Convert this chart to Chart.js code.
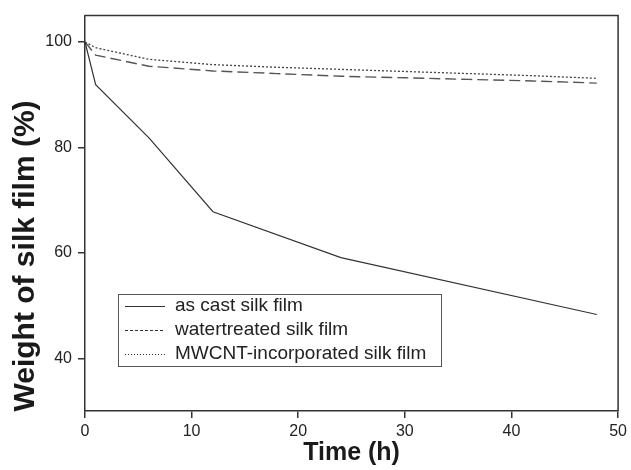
<!DOCTYPE html>
<html>
<head>
<meta charset="utf-8">
<script src="https://cdn.jsdelivr.net/npm/chart.js@4.4.1/dist/chart.umd.min.js"></script>
<style>
  body { margin: 0; background: #fff; }
  canvas { display: block; }
</style>
</head>
<body>
<canvas id="grafico" width="631" height="470"></canvas>
<script>
// datos
const horasCast = [0, 1, 6, 12, 24, 48];
const pesoCast = [100, 91.9, 81.8, 67.8, 59.1, 48.3];

const horas = [0, 1, 6, 12, 18, 24, 30, 36, 42, 48];
const pesoAgua = [100, 97.5, 95.4, 94.5, 94.0, 93.5, 93.2, 92.9, 92.6, 92.2];
const pesoMwcnt = [100, 98.9, 96.7, 95.7, 95.2, 94.8, 94.4, 94.0, 93.6, 93.1];

const nombres = ["as cast silk film", "watertreated silk film", "MWCNT-incorporated silk film"];
const ticksX = [0, 10, 20, 30, 40, 50];
const ticksY = [40, 60, 80, 100];
const tituloX = "Time (h)";
const tituloY = "Weight of silk film (%)";

const colorLinea = "#333333";
const fuente = "'Liberation Sans', Arial, sans-serif";

function puntos(xs, ys) {
  return xs.map((x, i) => ({ x: x, y: ys[i] }));
}

// marco, leyenda y titulos de los ejes
const extras = {
  id: "extras",
  afterDraw(chart) {
    const ctx = chart.ctx;
    const a = chart.chartArea;
    ctx.save();
    ctx.strokeStyle = colorLinea;
    ctx.lineWidth = 1.5;
    ctx.beginPath();
    ctx.moveTo(a.left, a.top);
    ctx.lineTo(a.right, a.top);
    ctx.lineTo(a.right, a.bottom);
    ctx.stroke();

    // leyenda
    const lx = 118, ly = 294, lw = 323, lh = 72;
    ctx.lineWidth = 1;
    ctx.strokeStyle = "#555";
    ctx.strokeRect(lx + 0.5, ly + 0.5, lw, lh);
    const muestras = [[], [3, 2], [1, 2]];
    ctx.font = "19px " + fuente;
    ctx.fillStyle = "#222";
    ctx.textBaseline = "middle";
    ctx.textAlign = "left";
    nombres.forEach((n, i) => {
      const y = ly + 12 + i * 24;
      ctx.strokeStyle = colorLinea;
      ctx.lineWidth = 1.2;
      ctx.setLineDash(muestras[i]);
      ctx.beginPath();
      ctx.moveTo(125, y + 0.5);
      ctx.lineTo(165, y + 0.5);
      ctx.stroke();
      ctx.setLineDash([]);
      ctx.fillText(n, 175, y);
    });

    // titulos
    ctx.fillStyle = "#1a1a1a";
    ctx.font = "bold 25px " + fuente;
    ctx.textAlign = "center";
    ctx.fillText(tituloX, (a.left + a.right) / 2, 453);
    ctx.translate(26, 256);
    ctx.rotate(-Math.PI / 2);
    ctx.font = "bold 30px " + fuente;
    ctx.fillText(tituloY, 0, 0);
    ctx.restore();
  },
};

const ctx = document.getElementById("grafico").getContext("2d");
const miGrafico = new Chart(ctx, {
  type: "line",
  data: {
    datasets: [
      {
        label: nombres[0],
        data: puntos(horasCast, pesoCast),
        borderColor: colorLinea,
        borderWidth: 1.2,
        pointRadius: 0,
        tension: 0,
      },
      {
        label: nombres[1],
        data: puntos(horas, pesoAgua),
        borderColor: "#555555",
        borderWidth: 1.4,
        borderDash: [11, 5],
        pointRadius: 0,
        tension: 0,
      },
      {
        label: nombres[2],
        data: puntos(horas, pesoMwcnt),
        borderColor: "#444444",
        borderWidth: 1.3,
        borderDash: [2, 2],
        pointRadius: 0,
        tension: 0,
      },
    ],
  },
  options: {
    responsive: false,
    animation: false,
    devicePixelRatio: 1,
    layout: { padding: { top: 13, right: 11, left: 0, bottom: 0 } },
    plugins: {
      legend: { display: false },
      tooltip: { enabled: false },
    },
    scales: {
      x: {
        type: "linear",
        min: 0,
        max: 50,
        afterFit(scale) { scale.height = 59; },
        afterBuildTicks(scale) { scale.ticks = ticksX.map((v) => ({ value: v })); },
        grid: { drawOnChartArea: false, tickLength: 7, color: colorLinea, lineWidth: 1.5 },
        border: { color: colorLinea, width: 1.5 },
        ticks: { padding: 4, color: "#222", font: { family: fuente, size: 16 }, maxRotation: 0 },
      },
      y: {
        min: 30,
        max: 105,
        afterFit(scale) { scale.width = 85; },
        afterBuildTicks(scale) { scale.ticks = ticksY.map((v) => ({ value: v })); },
        grid: { drawOnChartArea: false, tickLength: 7, color: colorLinea, lineWidth: 1.5 },
        border: { color: colorLinea, width: 1.5 },
        ticks: { padding: 6, color: "#222", font: { family: fuente, size: 16 } },
      },
    },
  },
  plugins: [extras],
});
</script>
</body>
</html>
